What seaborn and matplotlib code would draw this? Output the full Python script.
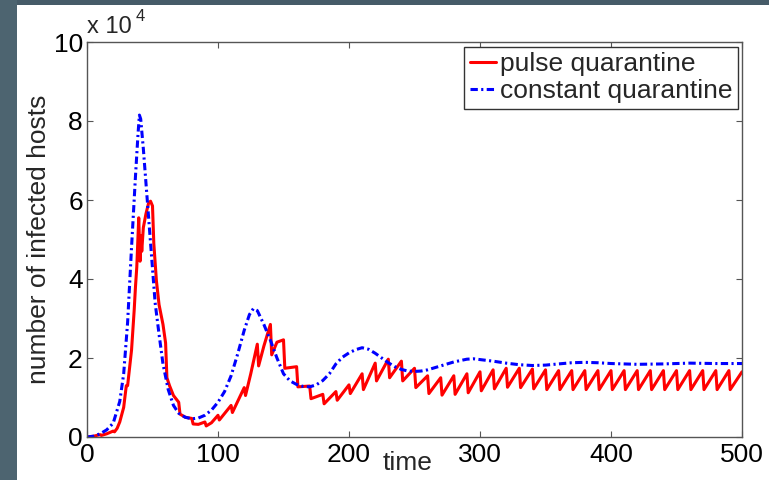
import matplotlib
matplotlib.use("Agg")
import matplotlib.pyplot as plt
import seaborn as sns
import pandas as pd
from matplotlib.patches import Rectangle

# ---- data (number of infected hosts, in units of 10^4) ----
series_names = ["pulse quarantine", "constant quarantine"]

constant_time = [0, 5, 10, 15, 20, 25, 28, 31, 34, 37, 39, 40, 41, 43, 46, 49, 52, 55,
                 58, 62, 66, 70, 75, 80, 85, 90, 95, 100, 105, 110, 115, 120, 124, 127,
                 130, 135, 140, 145, 150, 155, 160, 165, 170, 175, 180, 185, 190, 195,
                 200, 205, 210, 215, 220, 225, 230, 235, 240, 245, 250, 255, 260, 270,
                 280, 290, 295, 300, 310, 320, 330, 340, 350, 360, 370, 380, 390, 400,
                 420, 440, 460, 480, 500]
constant_infected = [0, 0.02, 0.08, 0.18, 0.35, 0.9, 1.6, 2.9, 4.8, 6.6, 7.7, 8.15, 8.05,
                     7.3, 6.0, 4.7, 3.4, 2.6, 1.85, 1.2, 0.8, 0.6, 0.5, 0.46, 0.48, 0.55,
                     0.68, 0.88, 1.15, 1.55, 2.1, 2.7, 3.1, 3.25, 3.2, 2.85, 2.45, 2.0,
                     1.6, 1.42, 1.33, 1.28, 1.27, 1.32, 1.43, 1.6, 1.85, 2.02, 2.13, 2.21,
                     2.26, 2.22, 2.12, 2.0, 1.88, 1.78, 1.71, 1.67, 1.66, 1.67, 1.7, 1.8,
                     1.9, 1.97, 1.98, 1.96, 1.92, 1.87, 1.83, 1.81, 1.82, 1.85, 1.88, 1.89,
                     1.88, 1.86, 1.84, 1.85, 1.87, 1.86, 1.86]

pulse_time = [0, 5, 10, 11, 15, 20, 21, 23, 25, 28, 30, 31, 33, 34, 36, 37, 38, 39.5,
              40.5, 41.2, 41.8, 43, 45, 47, 48.5, 50, 51, 53, 55, 58, 60, 61, 63, 66,
              70, 71, 75, 80, 81, 85, 90, 91, 95, 100, 101, 110, 111, 115, 120, 121,
              125, 130, 131, 135, 140, 141, 145, 150, 151, 160, 161, 170, 171, 180, 181,
              190, 191, 200, 201, 210, 211, 220, 221, 230, 231, 240, 241, 250, 251,
              260, 261, 270, 271, 280, 281, 290, 291, 300, 301, 310, 311, 320, 321,
              330, 331, 340, 341, 350, 351, 360, 361, 370, 371, 380, 381, 390, 391,
              400, 401, 410, 411, 420, 421, 430, 431, 440, 441, 450, 451, 460, 461,
              470, 471, 480, 481, 490, 491, 500]
pulse_infected = [0, 0.02, 0.06, 0.04, 0.08, 0.15, 0.13, 0.22, 0.38, 0.75, 1.3, 1.3,
                  1.9, 2.2, 3.2, 3.8, 4.3, 5.55, 4.45, 5.1, 4.7, 5.3, 5.65, 5.92, 5.97,
                  5.85, 4.9, 3.95, 3.35, 2.85, 2.38, 1.5, 1.3, 1.05, 0.88, 0.58, 0.5,
                  0.47, 0.33, 0.32, 0.38, 0.28, 0.36, 0.55, 0.43, 0.8, 0.62, 0.9, 1.25,
                  1.05, 1.6, 2.35, 1.8, 2.3, 2.85, 2.08, 2.4, 2.46, 1.74, 1.78, 1.27,
                  1.29, 0.97, 1.08, 0.84, 1.15, 0.93, 1.32, 1.1, 1.6, 1.2, 1.87, 1.42,
                  1.97, 1.5, 1.92, 1.42, 1.74, 1.25, 1.55, 1.1, 1.5, 1.06, 1.55, 1.08,
                  1.6, 1.12, 1.65, 1.17, 1.7, 1.22, 1.74, 1.26, 1.74, 1.25, 1.72, 1.22,
                  1.7, 1.2, 1.68, 1.2, 1.68, 1.2, 1.68, 1.2, 1.68, 1.2, 1.68, 1.2, 1.68,
                  1.2, 1.68, 1.2, 1.68, 1.2, 1.68, 1.2, 1.68, 1.2, 1.68, 1.2, 1.68, 1.2,
                  1.68, 1.2, 1.68, 1.2, 1.65]

x_ticks = [0, 100, 200, 300, 400, 500]
y_ticks = [0, 2, 4, 6, 8, 10]

# ---- style ----
sns.set_style("ticks")
plt.rcParams["font.family"] = ["Liberation Sans", "DejaVu Sans"]

W, H = 769, 480
FS = 19
fig = plt.figure(figsize=(W / 100, H / 100), dpi=100)
fig.patch.set_facecolor("white")
# slide background strips
fig.patches.append(Rectangle((0, 1 - 5 / H), 1, 5 / H, transform=fig.transFigure,
                             facecolor="#465b68", edgecolor="none", zorder=-5))
fig.patches.append(Rectangle((0, 0), 17 / W, 1, transform=fig.transFigure,
                             facecolor="#4d6470", edgecolor="none", zorder=-5))

ax = fig.add_axes([87 / W, 1 - 437 / H, 655 / W, 395 / H])

df_pulse = pd.DataFrame({"time": pulse_time, "infected": pulse_infected})
df_const = pd.DataFrame({"time": constant_time, "infected": constant_infected})

sns.lineplot(data=df_pulse, x="time", y="infected", ax=ax, color="#ff0000",
             linewidth=2.2, label=series_names[0], estimator=None, sort=False)
sns.lineplot(data=df_const, x="time", y="infected", ax=ax, color="#0000ff",
             linewidth=2.2, label=series_names[1], estimator=None, sort=False)
ax.lines[1].set_linestyle((0, (2.4, 1.1, 0.7, 1.1)))

ax.set_xlim(0, 500)
ax.set_ylim(0, 10)
ax.set_xticks(x_ticks)
ax.set_yticks(y_ticks)
ax.set_xticklabels([str(v) for v in x_ticks])
ax.set_yticklabels([str(v) for v in y_ticks])
ax.tick_params(direction="in", length=4, width=0.8, top=True, right=True,
               labelsize=FS, color="#555555", labelcolor="black")
ax.tick_params(axis="x", pad=4)
ax.tick_params(axis="y", pad=3)
for s in ax.spines.values():
    s.set_color("#555555")
    s.set_linewidth(1.0)
    s.set_visible(True)

ax.set_xlabel("time", fontsize=FS)
ax.xaxis.set_label_coords(0.489, -0.035)
ax.set_ylabel("number of infected hosts", fontsize=FS)
ax.yaxis.set_label_coords(-0.055, 0.5)

ax.text(0.0, 1.01, "x 10", transform=ax.transAxes, ha="left", va="bottom",
        fontsize=17)
ax.text(0.075, 1.045, "4", transform=ax.transAxes, ha="left", va="bottom",
        fontsize=12)

leg = ax.legend(loc="upper right", bbox_to_anchor=(1 - 4.3 / 655, 1 - 5 / 395),
                borderaxespad=0, fontsize=FS, handlelength=1.0,
                handletextpad=0.15, labelspacing=0.12, borderpad=0.2,
                frameon=True, fancybox=False, framealpha=1)
leg.get_frame().set_edgecolor("#333333")
leg.get_frame().set_linewidth(1.0)

fig.savefig("out.png", dpi=100)
